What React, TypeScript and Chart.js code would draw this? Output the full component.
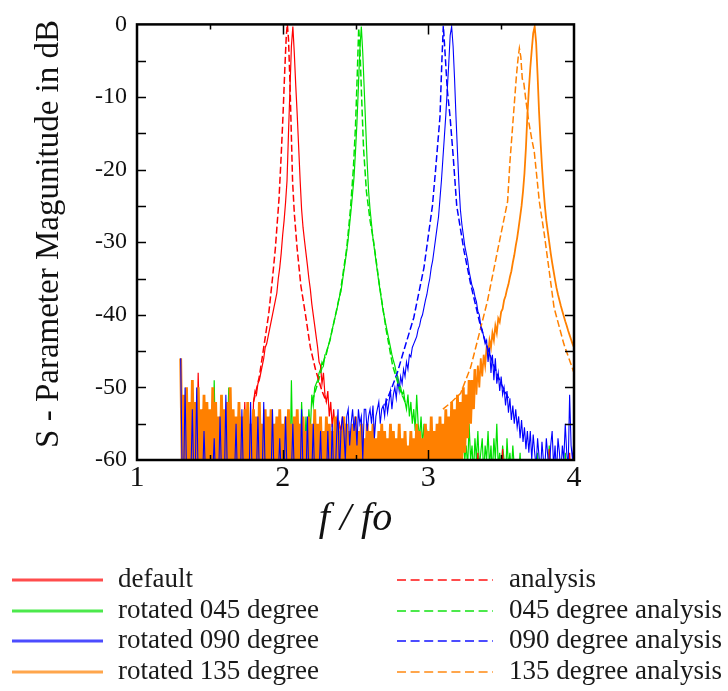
import React, { useEffect, useRef } from 'react';
import { Chart, registerables } from 'chart.js';

Chart.register(...registerables);

// ---------- sweep (measured traces, one value per frequency step) ----------
const sweepStart = 1.3;
const sweepStep = 0.01;

// default (red, solid)
const defaultDb = [
  -48, -55, -60, -52, -57, -61, -54, -59, -56, -62, // 1.30
  -55, -60, -48, -57, -61, -53, -59, -56, -62, -54, // 1.40
  -58, -61, -55, -60, -52, -62, -57, -59, -54, -61, // 1.50
  -57, -53, -60, -58, -62, -55, -59, -61, -56, -60, // 1.60
  -54, -61, -57, -59, -52, -60, -56, -62, -55, -58, // 1.70
  -52, -50.5, -51, -49.5, -49, -48, -47, -46, -44.5, -44, // 1.80
  -43, -42, -41, -40, -39, -38, -37, -35, -33.5, -31.5, // 1.90
  -29, -27, -24.5, -21.5, -15, -9, -3, -0.3, -4, -8.5, // 2.00
  -12.5, -17, -21.5, -25.5, -28, -29.8, -31.5, -33.2, -35, -36.5, // 2.10
  -38.5, -40, -41.5, -43, -44.5, -46.5, -47, -49.5, -48, -51, // 2.20
  -52, -50.5, -54, -52, -55.5, -53, -56, -54.5, -57, -55, // 2.30
  -56, -54, -58, -55, -59, -57, -61, -56, -60, -58, // 2.40
  -61, -57, -62, -59, -63, -60, -58, -62, -64, -60, // 2.50
  -62, -58, -63, -61, -64, -60, -62, -65, -61, -63, // 2.60
  -64, -61, -63, -66, -62, -64, -61, -65, -63, -62, // 2.70
  -65, -62, -64, -61, -66, -63, -65, -62, -64, -66, // 2.80
  -63, -65, -62, -64, -66, -61, -65, -63, -66, -64, // 2.90
  -62, -65, -63, -66, -64, -62, -65, -63, -61, -64, // 3.00
  -66, -63, -65, -62, -64, -66, -63, -65, -62, -64, // 3.10
  -65, -62, -64, -66, -63, -61, -65, -62, -64, -66, // 3.20
  -63, -65, -62, -64, -59, -63, -66, -62, -64, -61, // 3.30
  -65, -63, -66, -62, -64, -65, -63, -61, -64, -66, // 3.40
  -62, -58.5, -64, -63, -66, -62, -65, -63, -61, -64, // 3.50
  -66, -63, -65, -62, -64, -66, -63, -65, -62, -64, // 3.60
  -63, -65, -62, -64, -66, -63, -65, -62, -64, -63, // 3.70
  -65, -62, -64, -58.5, -63, -66, -62, -65, -63, -64, // 3.80
  -62, -64, -66, -63, -65, -62, -64, -59, -63, -65, // 3.90
  -64, // 4.00
];

// rotated 045 degree (green, solid)
const rot045Db = [
  -50, -57, -61, -55, -59, -62, -56, -60, -58, -62, // 1.30
  -57, -61, -55, -60, -63, -57, -59, -61, -56, -62, // 1.40
  -58, -55, -61, -49, -60, -57, -62, -56, -59, -61, // 1.50
  -55, -62, -58, -50, -61, -57, -60, -63, -56, -59, // 1.60
  -61, -57, -62, -55, -60, -58, -62, -57, -61, -59, // 1.70
  -56, -62, -59, -57, -61, -55, -60, -58, -62, -56, // 1.80
  -59, -61, -57, -62, -58, -55, -60, -57, -61, -58, // 1.90
  -56, -60, -58, -61, -57, -62, -49, -60, -56, -59, // 2.00
  -58, -55, -61, -52, -57, -59, -54, -58, -53, -56, // 2.10
  -51, -52.5, -50, -49.5, -49, -48, -47.5, -46.5, -47, -45.5, // 2.20
  -45.5, -44.5, -43.8, -43, -42, -41.2, -40.3, -39.5, -38.5, -37.5, // 2.30
  -36.8, -35.4, -34, -32.6, -31.2, -29.5, -27.5, -25.5, -23.3, -21, // 2.40
  -17.5, -13.5, -8.5, -3.5, -0.3, -4, -9, -14, -19, -23, // 2.50
  -25.5, -27.5, -29.5, -31, -32.5, -34, -35.5, -36.8, -38.2, -39.5, // 2.60
  -40.5, -41.5, -42.5, -43.5, -44.5, -45.5, -46.3, -47, -48, -48.5, // 2.70
  -49.5, -50, -51, -50.5, -52, -53, -51, -54, -52, -55, // 2.80
  -53, -56, -51, -55, -57, -54, -58, -55, -60, -56, // 2.90
  -57, -61, -55, -59, -56, -62, -58, -55, -60, -57, // 3.00
  -59, -56, -61, -57, -55, -60, -58, -62, -56, -59, // 3.10
  -61, -57, -59, -62, -56, -60, -58, -61, -55, -60, // 3.20
  -58, -62, -57, -60, -56, -61, -59, -57, -62, -58, // 3.30
  -60, -56, -61, -58, -62, -57, -60, -55, -61, -59, // 3.40
  -62, -58, -60, -63, -57, -61, -59, -62, -58, -61, // 3.50
  -63, -60, -62, -59, -64, -61, -63, -60, -62, -64, // 3.60
  -61, -63, -60, -64, -62, -59, -63, -61, -64, -62, // 3.70
  -60, -63, -61, -58, -62, -64, -60, -63, -61, -62, // 3.80
  -63, -60, -62, -64, -59, -62, -61, -63, -60, -62, // 3.90
  -61, // 4.00
];

// rotated 090 degree (blue, solid)
const rot090Db = [
  -46, -62, -63, -50, -62, -63, -62, -62, -53, -63, // 1.30
  -62, -50, -63, -62, -62, -63, -56, -62, -63, -62, // 1.40
  -63, -62, -62, -57, -63, -62, -63, -54, -62, -63, // 1.50
  -63, -51, -62, -63, -62, -63, -62, -62, -55, -63, // 1.60
  -62, -63, -53, -62, -63, -62, -63, -62, -52, -62, // 1.70
  -63, -62, -62, -54, -62, -63, -62, -52, -62, -63, // 1.80
  -62, -62, -63, -53, -62, -63, -63, -62, -57, -62, // 1.90
  -63, -62, -54, -62, -63, -63, -62, -55, -62, -63, // 2.00
  -62, -63, -63, -53, -62, -62, -63, -54, -63, -62, // 2.10
  -62, -55, -63, -62, -63, -62, -56, -63, -62, -62, // 2.20
  -63, -56, -62, -63, -55, -62, -63, -57, -53, -62, // 2.30
  -56, -54, -56, -60, -54, -53, -58, -55, -53, -56, // 2.40
  -54, -58, -53, -55, -54, -60, -53, -53, -56, -54, // 2.50
  -53, -55, -52.5, -57, -54, -53, -52, -55, -53, -52.5, // 2.60
  -54, -51.5, -53.5, -52, -50.5, -53, -51, -50, -51.5, -49, // 2.70
  -50.5, -48.5, -49.5, -47.5, -48.5, -46.5, -47.5, -45.5, -45.8, -44.5, // 2.80
  -44, -43.5, -43, -42, -41.5, -40.5, -40, -39, -38, -37.2, // 2.90
  -36, -35, -33.5, -32.5, -31, -29.5, -28, -26.5, -24, -21.5, // 3.00
  -18.5, -15.5, -12.5, -9, -5.5, -1.5, -0.3, -3, -7.5, -12.8, // 3.10
  -17.5, -22, -25.5, -27.5, -29, -30.5, -31.5, -32.5, -34, -35, // 3.20
  -36, -36.5, -37.5, -38.2, -39.5, -40, -41.5, -42, -43, -44, // 3.30
  -43.5, -46.5, -44.5, -48, -45.5, -49, -46, -49.5, -48, -50.5, // 3.40
  -48.5, -51, -50, -52.5, -50.5, -53.5, -51.5, -54.5, -52.5, -55, // 3.50
  -53, -55.5, -54, -57, -54.5, -57.5, -55.5, -58.5, -56, -59, // 3.60
  -56, -60, -56.5, -59, -61, -57, -59.5, -62, -57.5, -60, // 3.70
  -61, -57, -59.5, -62, -58, -56, -61, -58, -62, -57, // 3.80
  -59, -62, -58, -60, -55, -59, -61, -51, -58, -60, // 3.90
  -57, // 4.00
];

// rotated 135 degree (orange, solid)
const rot135Db = [
  -46, -61, -51, -61, -50, -61, -52, -61, -49, -61, // 1.30
  -52, -61, -50, -61, -53, -61, -51, -61, -52, -61, // 1.40
  -53, -61, -50, -61, -52, -61, -54, -61, -51, -61, // 1.50
  -53, -61, -52, -61, -50, -61, -53, -61, -54, -61, // 1.60
  -52, -61, -54, -61, -53, -61, -52, -61, -55, -61, // 1.70
  -53, -61, -54, -61, -52, -61, -55, -61, -53, -61, // 1.80
  -54, -61, -53, -61, -55, -61, -54, -61, -53, -61, // 1.90
  -55, -61, -54, -61, -53, -61, -55, -61, -54, -61, // 2.00
  -53, -61, -55, -61, -54, -61, -56, -61, -54, -61, // 2.10
  -55, -61, -53, -61, -55, -61, -54, -61, -56, -61, // 2.20
  -54, -61, -55, -61, -56, -61, -54, -61, -55, -61, // 2.30
  -56, -61, -54, -61, -55, -61, -56, -61, -55, -61, // 2.40
  -54, -61, -56, -61, -55, -61, -57, -61, -55, -61, // 2.50
  -56, -61, -55, -61, -57, -61, -56, -61, -55, -61, // 2.60
  -56, -61, -57, -61, -55, -61, -56, -61, -57, -61, // 2.70
  -55, -61, -57, -61, -56, -61, -58, -61, -56, -61, // 2.80
  -57, -61, -55, -61, -56, -61, -57, -61, -55, -61, // 2.90
  -56, -61, -54, -61, -56, -61, -55, -61, -54, -61, // 3.00
  -55, -61, -53, -61, -54, -61, -52, -61, -53, -61, // 3.10
  -51, -61, -52, -60, -50, -59, -51, -57, -49, -55, // 3.20
  -49, -53, -47.5, -51, -47, -50, -46, -48.5, -45.5, -47, // 3.30
  -44.5, -45.5, -43.5, -44.5, -42.5, -43.5, -41.5, -42.5, -40.5, -41, // 3.40
  -39.6, -39.2, -38, -37.4, -36.5, -35.8, -34.8, -34, -32.8, -31.8, // 3.50
  -30.5, -29.4, -28, -26.5, -25, -23, -20.5, -17, -12.5, -9, // 3.60
  -6, -3.5, -1.2, -0.3, -2.5, -7, -12, -16, -19.5, -22.5, // 3.70
  -25, -27, -28.5, -30, -31.5, -32.8, -34, -35.2, -36.3, -37.2, // 3.80
  -38, -38.8, -39.5, -40.2, -40.9, -41.5, -42.2, -42.8, -43.4, -44, // 3.90
  -44.5, // 4.00
];

// ---------- analysis curves (dashed) ----------
const analysisF = [1.80, 1.84, 1.87, 1.904, 1.93, 1.95, 1.975, 1.99, 2.002, 2.015, 2.025, 2.032, 2.040, 2.05, 2.058, 2.068, 2.08, 2.099, 2.125, 2.156, 2.19, 2.225, 2.27, 2.30];
const analysisDb = [-52, -48.5, -44.5, -39.9, -35, -30.8, -24, -18, -12.7, -6, -1.5, 0, -2, -8, -14, -21.6, -26, -30.8, -36, -39.9, -44.5, -47.5, -50.5, -52];

const analysis045F = [2.20, 2.24, 2.28, 2.325, 2.395, 2.44, 2.465, 2.485, 2.50, 2.512, 2.522, 2.53, 2.542, 2.555, 2.575, 2.60, 2.625, 2.665, 2.71, 2.755, 2.80, 2.84];
const analysis045Db = [-52, -49.5, -46.5, -43.5, -37, -30.8, -25.5, -20, -14, -7, -0.5, -3, -10, -17, -23, -27, -30, -36, -42, -47, -50, -52];

const analysis090F = [2.70, 2.75, 2.787, 2.832, 2.90, 2.97, 3.028, 3.05, 3.08, 3.093, 3.103, 3.115, 3.13, 3.149, 3.17, 3.195, 3.245, 3.291, 3.36, 3.40, 3.45, 3.50, 3.55];
const analysis090Db = [-52.5, -50, -48, -44.9, -40.4, -33.5, -25, -20, -12.7, -5, -0.2, -4, -9, -12.7, -18, -25, -31.2, -35.8, -41.7, -44.2, -47, -49.5, -51.5];

const analysis135F = [3.10, 3.16, 3.222, 3.291, 3.337, 3.406, 3.475, 3.544, 3.56, 3.59, 3.605, 3.617, 3.625, 3.635, 3.645, 3.655, 3.67, 3.69, 3.71, 3.727, 3.762, 3.796, 3.83, 3.863, 3.93, 4.0];
const analysis135Db = [-53, -52, -50.8, -47.2, -43.6, -38.1, -31.2, -24.4, -19, -11, -7, -4.5, -3.3, -4.5, -7.5, -8, -10.5, -13.5, -15.8, -17.5, -24.4, -28.9, -34, -39, -44, -48];

// ---------- labels, colours, ticks ----------
const measuredLabels = ['default', 'rotated 045 degree', 'rotated 090 degree', 'rotated 135 degree'];
const analysisLabels = ['analysis', '045 degree analysis', '090 degree analysis', '135 degree analysis'];
const seriesColors = ['#ff0000', '#00e000', '#0000ff', '#ff8000'];
const yMinorTicks = [-55, -50, -45, -40, -35, -30, -25, -20, -15, -10, -5];
const xMajorTicks = [2, 3];
const xMinorTicks = [1.5, 2.5, 3.5];
const noiseFloorEnd = 3.32; // upper end of the dense noise floor of the 135 degree trace

const SERIF = '"Liberation Serif", "Times New Roman", serif';

function sweepPoints(values: number[]) {
  return values.map((v, i) => ({ x: +(sweepStart + i * sweepStep).toFixed(3), y: v }));
}
function pairPoints(fs: number[], vs: number[]) {
  return fs.map((f, i) => ({ x: f, y: vs[i] }));
}

const framePlugin = {
  id: 'frameTicksLegend',
  afterDatasetsDraw(chart: any) {
    const { ctx, chartArea, scales } = chart;
    const { left, right, top, bottom } = chartArea;
    const y = scales.y;
    const x = scales.x;
    ctx.save();
    ctx.strokeStyle = '#000';
    ctx.lineWidth = 1.5;
    ctx.beginPath();
    for (const v of yMinorTicks) {
      const py = Math.round(y.getPixelForValue(v)) + 0.5;
      ctx.moveTo(left, py); ctx.lineTo(left + 9, py);
      ctx.moveTo(right, py); ctx.lineTo(right - 9, py);
    }
    for (const v of xMajorTicks) {
      const px = Math.round(x.getPixelForValue(v)) + 0.5;
      ctx.moveTo(px, top); ctx.lineTo(px, top + 10);
      ctx.moveTo(px, bottom); ctx.lineTo(px, bottom - 10);
    }
    for (const v of xMinorTicks) {
      const px = Math.round(x.getPixelForValue(v)) + 0.5;
      ctx.moveTo(px, top); ctx.lineTo(px, top + 5);
      ctx.moveTo(px, bottom); ctx.lineTo(px, bottom - 5);
    }
    ctx.stroke();
    ctx.lineWidth = 2.5;
    ctx.strokeRect(left, top, right - left, bottom - top);
    ctx.restore();
  },
  afterDraw(chart: any) {
    const { ctx } = chart;
    const ds = chart.data.datasets;
    const rows = [580, 611, 641, 672];
    ctx.save();
    ctx.font = `27px ${SERIF}`;
    ctx.textBaseline = 'middle';
    ctx.textAlign = 'left';
    for (let i = 0; i < 4; i++) {
      const yy = rows[i];
      const solid = ds[i];
      const dashed = ds[i + 4];
      ctx.globalAlpha = 0.7;
      ctx.strokeStyle = solid.borderColor;
      ctx.lineWidth = 3;
      ctx.setLineDash([]);
      ctx.beginPath(); ctx.moveTo(12, yy); ctx.lineTo(103, yy); ctx.stroke();
      ctx.strokeStyle = dashed.borderColor;
      ctx.lineWidth = 2;
      ctx.setLineDash([9, 4.6]);
      ctx.beginPath(); ctx.moveTo(397, yy); ctx.lineTo(493, yy); ctx.stroke();
      ctx.setLineDash([]);
      ctx.globalAlpha = 1;
      ctx.fillStyle = '#1a1a1a';
      ctx.fillText(solid.label, 118, yy);
      ctx.fillText(dashed.label, 509, yy);
    }
    ctx.restore();
  },
};

export default function App() {
  const canvasRef = useRef<HTMLCanvasElement | null>(null);

  useEffect(() => {
    const canvas = canvasRef.current;
    if (!canvas) return;
    const measured = [defaultDb, rot045Db, rot090Db, rot135Db];
    // lower order is drawn on top: blue, then orange, red, green
    const measuredOrder = [3, 4, 1, 2];
    const measuredWidth = [1.2, 1.2, 1.1, 1.8];
    const analysis = [
      pairPoints(analysisF, analysisDb),
      pairPoints(analysis045F, analysis045Db),
      pairPoints(analysis090F, analysis090Db),
      pairPoints(analysis135F, analysis135Db),
    ];
    const datasets: any[] = [];
    measured.forEach((vals, i) => {
      const ds: any = {
        label: measuredLabels[i],
        data: sweepPoints(vals),
        borderColor: seriesColors[i],
        borderWidth: measuredWidth[i],
        pointRadius: 0,
        fill: false,
        tension: 0,
        clip: 0,
        order: measuredOrder[i],
      };
      if (i === 3) {
        // the dense sweep of the 135 degree trace renders as a solid band in the original plot
        ds.segment = {
          borderWidth: (c: any) => (c.p1.parsed.x <= noiseFloorEnd ? 2.8 : 1.8),
        };
      }
      datasets.push(ds);
    });
    analysis.forEach((pts, i) => {
      datasets.push({
        label: analysisLabels[i],
        data: pts,
        borderColor: seriesColors[i],
        borderWidth: 1.5,
        borderDash: [7, 3],
        pointRadius: 0,
        fill: false,
        tension: 0,
        clip: 0,
        order: 0,
      });
    });

    const chart = new Chart(canvas, {
      type: 'line',
      data: { datasets },
      options: {
        animation: false,
        responsive: false,
        devicePixelRatio: 1,
        layout: { padding: { top: 22, right: 154, left: 0, bottom: 0 } },
        plugins: { legend: { display: false }, tooltip: { enabled: false } },
        scales: {
          x: {
            type: 'linear',
            min: 1,
            max: 4,
            grid: { display: false, drawTicks: false },
            border: { display: false },
            ticks: { stepSize: 1, color: '#111', padding: 0, font: { family: SERIF, size: 30 } },
            title: {
              display: true,
              text: 'f / fo',
              color: '#111',
              font: { family: SERIF, size: 40, style: 'italic' },
              padding: { top: 0, bottom: 148 },
            },
            afterFit: (s: any) => { s.height = 231; },
          },
          y: {
            type: 'linear',
            min: -60,
            max: 0,
            grid: { display: false, drawTicks: false },
            border: { display: false },
            ticks: { stepSize: 10, color: '#111', padding: 10, font: { family: SERIF, size: 24 } },
            title: {
              display: true,
              text: '\u00a0\u00a0S - Parameter Magunitude in dB',
              color: '#111',
              font: { family: SERIF, size: 33 },
              padding: { top: 30, bottom: 0 },
            },
            afterFit: (s: any) => { s.width = 137; },
          },
        },
      },
      plugins: [framePlugin],
    });
    return () => chart.destroy();
  }, []);

  return (
    <div style={{ position: 'absolute', left: 0, top: 0, width: 728, height: 691, background: '#fff' }}>
      <canvas ref={canvasRef} width={728} height={691} style={{ display: 'block', width: 728, height: 691 }} />
    </div>
  );
}
